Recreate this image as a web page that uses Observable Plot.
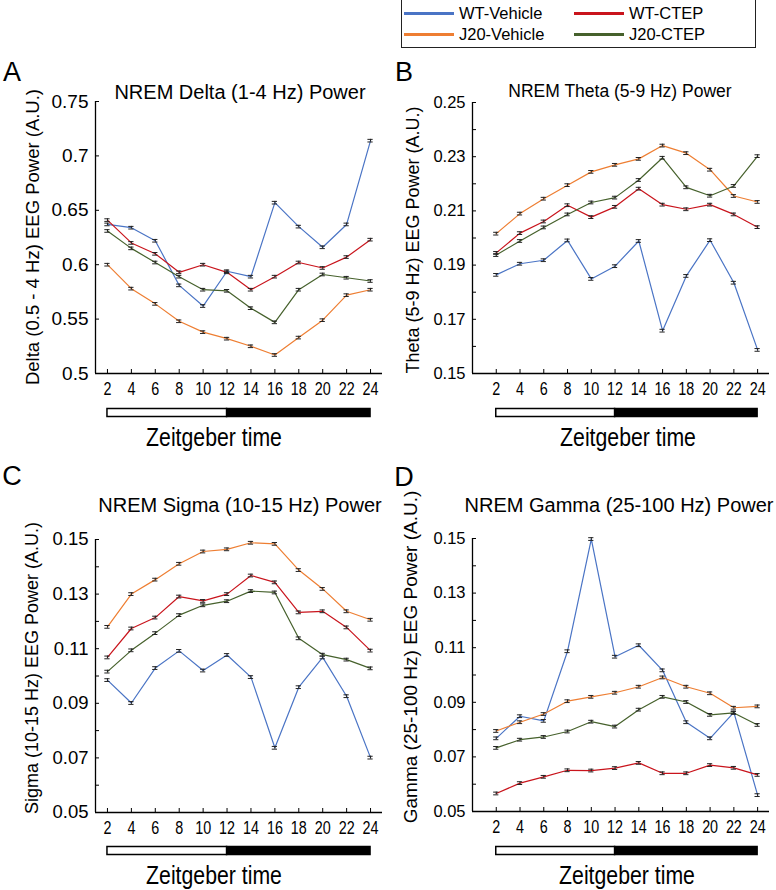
<!DOCTYPE html>
<html><head><meta charset="utf-8">
<script src="https://cdn.jsdelivr.net/npm/d3@7"></script>
<script src="https://cdn.jsdelivr.net/npm/@observablehq/plot@0.6"></script>
<style>
body{margin:0;background:#fff;}
#fig{position:relative;width:776px;height:890px;background:#fff;font-family:"Liberation Sans",Arial,sans-serif;color:#000;overflow:hidden}
.abs{position:absolute;white-space:nowrap;transform:translate(-50%,-50%);line-height:1}
.ylab{transform:translate(-50%,-50%) rotate(-90deg)}
.narrow{transform:translate(-50%,-50%) scaleX(0.85)}
#fig svg{position:absolute;overflow:visible}
.legend{position:absolute;left:401px;top:-1px;width:355px;height:49px;border:1px solid #222;box-sizing:border-box}
.li{position:absolute;display:flex;align-items:center;font-size:16.5px;line-height:1}
.li span.sw{display:inline-block;width:50px;height:3px;margin-right:5px}
</style></head><body><div id="fig"></div>
<script>
// ---------- data ----------
const zt = [2, 4, 6, 8, 10, 12, 14, 16, 18, 20, 22, 24];
const groups = ["WT-Vehicle", "WT-CTEP", "J20-Vehicle", "J20-CTEP"];
const groupColors = ["#4a74c5", "#c9141c", "#ee7e32", "#46612c"];
const lightPhase = [2, 12];
const darkPhase = [12, 24];

// Delta (0.5-4 Hz)
const deltaWTVeh  = [0.637, 0.634, 0.622, 0.581, 0.562, 0.594, 0.589, 0.657, 0.635, 0.616, 0.637, 0.714];
const deltaWTCtep = [0.641, 0.620, 0.610, 0.593, 0.600, 0.593, 0.577, 0.589, 0.602, 0.597, 0.607, 0.623];
const deltaJ20Veh = [0.600, 0.578, 0.564, 0.548, 0.538, 0.532, 0.525, 0.517, 0.533, 0.549, 0.572, 0.577];
const deltaJ20Ctep= [0.631, 0.615, 0.602, 0.589, 0.577, 0.576, 0.560, 0.547, 0.577, 0.591, 0.588, 0.585];
const deltaErr = 0.0012;
const deltaTicks = [0.5, 0.55, 0.6, 0.65, 0.7, 0.75];
const deltaLabels = [0.5, 0.55, 0.6, 0.65, 0.7, 0.75];

// Theta (5-9 Hz)
const thetaWTVeh  = [0.1864, 0.1905, 0.1918, 0.1991, 0.1849, 0.1896, 0.1989, 0.1658, 0.1860, 0.1992, 0.1835, 0.1587];
const thetaWTCtep = [0.1945, 0.2018, 0.2061, 0.2121, 0.2077, 0.2115, 0.2182, 0.2123, 0.2106, 0.2123, 0.2087, 0.2040];
const thetaJ20Veh = [0.2016, 0.2090, 0.2145, 0.2195, 0.2244, 0.2270, 0.2292, 0.2341, 0.2313, 0.2252, 0.2155, 0.2133];
const thetaJ20Ctep= [0.1937, 0.1989, 0.2039, 0.2087, 0.2131, 0.2149, 0.2214, 0.2296, 0.2187, 0.2156, 0.2192, 0.2302];
const thetaErr = 0.0005;
const thetaTicks = [0.15, 0.16, 0.17, 0.18, 0.19, 0.20, 0.21, 0.22, 0.23, 0.24, 0.25];
const thetaLabels = [0.15, 0.17, 0.19, 0.21, 0.23, 0.25];

// Sigma (10-15 Hz)
const sigmaWTVeh  = [0.0985, 0.0901, 0.1029, 0.1092, 0.1020, 0.1077, 0.0996, 0.0737, 0.0959, 0.1068, 0.0926, 0.0701];
const sigmaWTCtep = [0.1068, 0.1174, 0.1214, 0.1291, 0.1275, 0.1300, 0.1368, 0.1343, 0.1233, 0.1237, 0.1178, 0.1093];
const sigmaJ20Veh = [0.1180, 0.1300, 0.1353, 0.1411, 0.1456, 0.1464, 0.1488, 0.1484, 0.1388, 0.1319, 0.1237, 0.1206];
const sigmaJ20Ctep= [0.1016, 0.1094, 0.1157, 0.1223, 0.1259, 0.1274, 0.1311, 0.1306, 0.1138, 0.1078, 0.1060, 0.1028];
const sigmaErr = 0.0005;
const sigmaTicks = [0.05, 0.06, 0.07, 0.08, 0.09, 0.10, 0.11, 0.12, 0.13, 0.14, 0.15];
const sigmaLabels = [0.05, 0.07, 0.09, 0.11, 0.13, 0.15];

// Gamma (25-100 Hz)
const gammaWTVeh  = [0.0768, 0.0849, 0.0832, 0.1087, 0.1498, 0.1067, 0.1109, 0.1017, 0.0827, 0.0768, 0.0863, 0.0560];
const gammaWTCtep = [0.0566, 0.0604, 0.0627, 0.0651, 0.0650, 0.0659, 0.0678, 0.0640, 0.0640, 0.0670, 0.0660, 0.0634];
const gammaJ20Veh = [0.0795, 0.0827, 0.0857, 0.0904, 0.0920, 0.0935, 0.0957, 0.0991, 0.0957, 0.0933, 0.0880, 0.0885];
const gammaJ20Ctep= [0.0733, 0.0763, 0.0773, 0.0793, 0.0829, 0.0811, 0.0873, 0.0920, 0.0901, 0.0854, 0.0861, 0.0817];
const gammaErr = 0.0005;
const gammaTicks = [0.05, 0.06, 0.07, 0.08, 0.09, 0.10, 0.11, 0.12, 0.13, 0.14, 0.15];
const gammaLabels = [0.05, 0.07, 0.09, 0.11, 0.13, 0.15];

// ---------- layout ----------
const fig = document.getElementById("fig");
function addText(txt, x, y, size, cls = "", extra = "") {
  const d = document.createElement("div");
  d.className = "abs " + cls;
  d.style.cssText = `left:${x}px;top:${y}px;font-size:${size}px;${extra}`;
  d.textContent = txt;
  fig.appendChild(d);
  return d;
}
function tidy(series) {
  const out = [];
  series.forEach((vals, gi) => vals.forEach((v, i) => out.push({group: groups[gi], zt: zt[i], v})));
  return out;
}

const panels = [
  {letter: "A", title: "NREM Delta (1-4 Hz) Power", ylabel: "Delta (0.5 - 4 Hz) EEG Power (A.U.)",
   series: [deltaWTVeh, deltaWTCtep, deltaJ20Veh, deltaJ20Ctep], err: deltaErr, ticks: deltaTicks, labels: deltaLabels,
   left: 0, top: 60, width: 390, height: 345, mt: 41, mb: 32, ml: 95, mr: 8, xdom: [1, 25],
   yfs: 19, letterPos: [12, 72], titlePos: [240, 92], titleFs: 20, ylabPos: [33, 237], ylabFs: 18.5,
   barTop: 407, ztPos: [214, 437]},
  {letter: "B", title: "NREM Theta (5-9 Hz) Power", ylabel: "Theta (5-9 Hz) EEG Power (A.U.)",
   series: [thetaWTVeh, thetaWTCtep, thetaJ20Veh, thetaJ20Ctep], err: thetaErr, ticks: thetaTicks, labels: thetaLabels,
   left: 390, top: 60, width: 386, height: 345, mt: 42, mb: 32, ml: 82, mr: 7, xdom: [0, 25],
   yfs: 16.5, letterPos: [404, 72], titlePos: [620, 92], titleFs: 17.5, ylabPos: [413, 240], ylabFs: 18,
   barTop: 407, ztPos: [628, 437]},
  {letter: "C", title: "NREM Sigma (10-15 Hz) Power", ylabel: "Sigma (10-15 Hz) EEG Power (A.U.)",
   series: [sigmaWTVeh, sigmaWTCtep, sigmaJ20Veh, sigmaJ20Ctep], err: sigmaErr, ticks: sigmaTicks, labels: sigmaLabels,
   left: 0, top: 460, width: 390, height: 385, mt: 79, mb: 33, ml: 95, mr: 8, xdom: [1, 25],
   yfs: 18.5, letterPos: [12, 476], titlePos: [240, 505], titleFs: 20, ylabPos: [32, 668], ylabFs: 18,
   barTop: 845, ztPos: [214, 875]},
  {letter: "D", title: "NREM Gamma (25-100 Hz) Power", ylabel: "Gamma (25-100 Hz) EEG Power (A.U.)",
   series: [gammaWTVeh, gammaWTCtep, gammaJ20Veh, gammaJ20Ctep], err: gammaErr, ticks: gammaTicks, labels: gammaLabels,
   left: 390, top: 460, width: 386, height: 385, mt: 78, mb: 34, ml: 82, mr: 7, xdom: [0, 25],
   yfs: 16.5, letterPos: [404, 477], titlePos: [619, 505], titleFs: 20, ylabPos: [410, 657], ylabFs: 19,
   barTop: 845, ztPos: [627, 875]}
];

for (const p of panels) {
  const data = tidy(p.series);
  const ydom = [d3.min(p.ticks), d3.max(p.ticks)];
  const labelSet = new Set(p.labels.map(String));
  const e = p.err;
  const chart = Plot.plot({
    width: p.width, height: p.height,
    marginTop: p.mt, marginBottom: p.mb, marginLeft: p.ml, marginRight: p.mr,
    style: {fontFamily: '"Liberation Sans", Arial, sans-serif', background: "transparent", color: "#000"},
    x: {domain: p.xdom, label: null},
    y: {domain: ydom, label: null},
    color: {domain: groups, range: groupColors},
    marks: [
      Plot.ruleY([ydom[0]], {stroke: "#000", strokeWidth: 1.3}),
      Plot.ruleX([p.xdom[0]], {stroke: "#000", strokeWidth: 1.3}),
      Plot.axisX({ticks: zt, tickSize: -4, tickPadding: 13, tickFormat: d => String(d),
        fontSize: 17.5, stroke: "#000"}),
      Plot.axisY({ticks: p.ticks, tickSize: -4, tickPadding: 11,
        tickFormat: d => labelSet.has(String(d)) ? String(d) : "", fontSize: p.yfs, stroke: "#000"}),
      Plot.line(data, {x: "zt", y: "v", z: "group", stroke: "group", strokeWidth: 1.2}),
      Plot.ruleX(data, {x: "zt", y1: d => d.v - e, y2: d => d.v + e, stroke: "#222", strokeWidth: 1}),
      Plot.ruleY(data, {y: d => d.v + e, x1: d => d.zt - 0.22, x2: d => d.zt + 0.22, stroke: "#222", strokeWidth: 1}),
      Plot.ruleY(data, {y: d => d.v - e, x1: d => d.zt - 0.22, x2: d => d.zt + 0.22, stroke: "#222", strokeWidth: 1})
    ]
  });
  // condense the x tick labels (narrow typeface look)
  chart.querySelectorAll('g[aria-label="x-axis tick label"] text').forEach(t => {
    const tr = t.getAttribute("transform") || "";
    t.setAttribute("transform", tr + " scale(0.82,1)");
  });
  chart.style.left = p.left + "px";
  chart.style.top = p.top + "px";
  fig.appendChild(chart);

  // light / dark bar
  const bar = Plot.plot({
    width: p.width, height: 11, marginTop: 1.5, marginBottom: 1.5, marginLeft: p.ml, marginRight: p.mr,
    style: {background: "transparent"},
    x: {domain: p.xdom, axis: null},
    marks: [
      Plot.rect([{a: darkPhase[0], b: darkPhase[1]}], {x1: "a", x2: "b", fill: "#000", stroke: "#000", strokeWidth: 1.5}),
      Plot.rect([{a: lightPhase[0], b: lightPhase[1]}], {x1: "a", x2: "b", fill: "#fff", stroke: "#000", strokeWidth: 1.5})
    ]
  });
  bar.style.left = p.left + "px";
  bar.style.top = p.barTop + "px";
  fig.appendChild(bar);

  addText(p.letter, p.letterPos[0], p.letterPos[1], 27);
  addText(p.title, p.titlePos[0], p.titlePos[1], p.titleFs);
  addText(p.ylabel, p.ylabPos[0], p.ylabPos[1], p.ylabFs, "ylab");
  addText("Zeitgeber time", p.ztPos[0], p.ztPos[1], 25, "narrow");
}

// legend
const leg = document.createElement("div");
leg.className = "legend";
fig.appendChild(leg);
const legPos = [[2, 14], [172, 14], [2, 35], [172, 35]];
const legOrder = [0, 1, 2, 3];
legOrder.forEach((gi, k) => {
  const it = document.createElement("div");
  it.className = "li";
  it.style.left = legPos[k][0] + "px";
  it.style.top = (legPos[k][1] - 9) + "px";
  it.innerHTML = `<span class="sw" style="background:${groupColors[gi]}"></span><span></span>`;
  it.lastChild.textContent = groups[gi];
  leg.appendChild(it);
});
</script></body></html>
